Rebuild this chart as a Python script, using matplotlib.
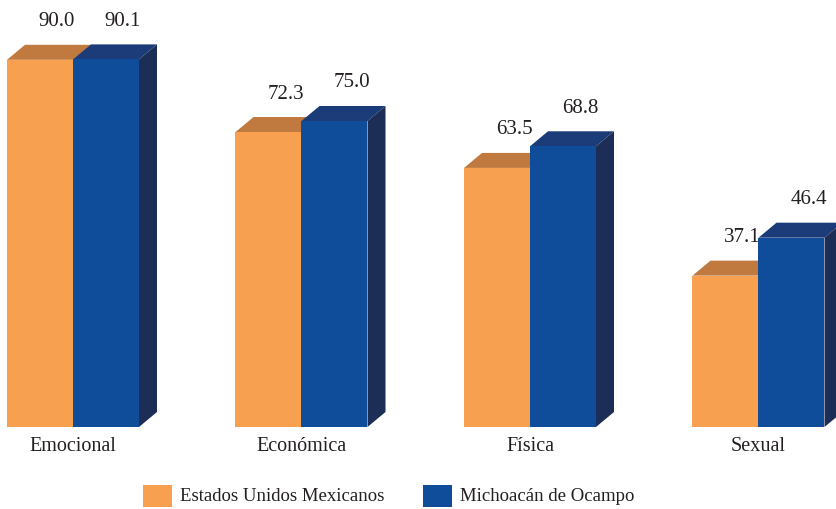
import matplotlib
matplotlib.use("Agg")
import matplotlib.pyplot as plt
from matplotlib.patches import Polygon, Rectangle
from matplotlib.transforms import offset_copy
import numpy as np

categories = ["Emocional", "Económica", "Física", "Sexual"]
series_names = ["Estados Unidos Mexicanos", "Michoacán de Ocampo"]
nacional = [90.0, 72.3, 63.5, 37.1]
michoacan = [90.1, 75.0, 68.8, 46.4]

front_cols = ["#F7A04F", "#0F4C9A"]
top_cols = ["#C07A3F", "#1B3C78"]
side_cols = ["#A0652F", "#1C2E55"]
text_col = "#231F20"

plt.rcParams['font.family'] = 'serif'
plt.rcParams['font.serif'] = ['Liberation Serif', 'Times New Roman', 'DejaVu Serif']

fig = plt.figure(figsize=(8.37, 5.10), dpi=100)
ax = fig.add_axes([0, 0, 1, 1])
ax.set_axis_off()

px_x = 228.5  # pixels per category unit
px_y = 4.08   # pixels per value unit
ax.set_xlim(-73 / px_x, (837 - 73) / px_x)
ax.set_ylim(-82 / px_y, (510 - 82) / px_y)

w = 66 / px_x
dx = 18 / px_x
dy = 15 / px_y

x = np.arange(len(categories))
for s, vals in enumerate([nacional, michoacan]):
    lefts = x - w + s * w
    ax.bar(lefts, vals, width=w, align='edge', color=front_cols[s],
           linewidth=0, zorder=2 + 2 * s)
    for xl, v in zip(lefts, vals):
        top = Polygon([(xl, v), (xl + w, v), (xl + w + dx, v + dy), (xl + dx, v + dy)],
                      closed=True, facecolor=top_cols[s], edgecolor='none', zorder=1 + 2 * s)
        side = Polygon([(xl + w, 0), (xl + w + dx, dy), (xl + w + dx, v + dy), (xl + w, v)],
                       closed=True, facecolor=side_cols[s], edgecolor='none', zorder=1 + 2 * s)
        ax.add_patch(top)
        ax.add_patch(side)
        lab_tr = offset_copy(ax.transData, fig=fig, x=17, y=39, units='dots')
        ax.text(xl + w / 2, v, f"{v:.1f}", transform=lab_tr, ha='center', va='center',
                fontsize=15, color=text_col, zorder=10)

for i, c in enumerate(categories):
    tr = offset_copy(ax.transData, fig=fig, x=0, y=-19, units='dots')
    ax.text(x[i], 0, c, transform=tr, ha='center', va='center', fontsize=14.5, color=text_col)

# legend
leg_items = [(143, 0), (423, 1)]
for xp, s in leg_items:
    fig.patches.append(Rectangle((xp / 837, (510 - 508) / 510), 29 / 837, 22 / 510,
                                 transform=fig.transFigure, facecolor=front_cols[s],
                                 edgecolor='none'))
    fig.text((xp + 37) / 837, (510 - 497) / 510, series_names[s], ha='left', va='center',
             fontsize=13.5, color=text_col)

fig.savefig("out.png", dpi=100)
